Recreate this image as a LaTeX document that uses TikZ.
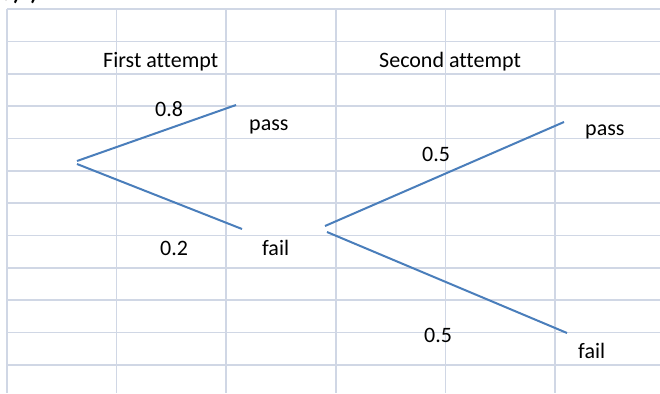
\documentclass[tikz,border=0pt]{standalone}
\usepackage{fontspec}
\setmainfont[Ligatures=NoCommon]{Carlito}
\definecolor{gridc}{HTML}{D0D7E5}
\definecolor{branch}{HTML}{4A7EBB}
\tikzset{
  gridline/.style={draw=gridc, line width=1.7pt},
  branchline/.style={draw=branch, line width=2pt},
  lbl/.style={anchor=base west, inner sep=0pt, font=\fontsize{22}{26}\selectfont}
}
\begin{document}
\begin{tikzpicture}[x=1pt, y=-1pt]
\useasboundingbox (0,0) rectangle (660,393);
\clip (0,0) rectangle (660,393);
\fill[white] (0,0) rectangle (660,393);
% spreadsheet grid
\foreach \k in {0,...,11} {
  \draw[gridline] (7,{9+32.36*\k}) -- (660,{9+32.36*\k});
}
\foreach \k in {0,...,5} {
  \draw[gridline] ({7+109.6*\k},9) -- ({7+109.6*\k},393);
}
% cut-off heading at the top
\node[lbl, font=\fontsize{22}{26}\selectfont\bfseries] (head) at (2,1) {a) i)};
% headings
\node[lbl] (first) at (103,68) {First attempt};
\node[lbl] (second) at (379,68) {Second attempt};
% first tree
\coordinate (r1a) at (77,161);
\coordinate (r1b) at (77,164);
\coordinate (p1) at (236,105);
\coordinate (f1) at (242,229);
\draw[branchline] (r1a) -- (p1);
\draw[branchline] (r1b) -- (f1);
\node[lbl] (pr08) at (155,117) {0.8};
\node[lbl] (pass1) at (249,130) {pass};
\node[lbl] (pr02) at (160,255) {0.2};
\node[lbl] (fail1) at (262,255) {fail};
% second tree
\coordinate (r2a) at (325,226);
\coordinate (r2b) at (327,232);
\coordinate (p2) at (564,122);
\coordinate (f2) at (567,333);
\draw[branchline] (r2a) -- (p2);
\draw[branchline] (r2b) -- (f2);
\node[lbl] (pr05a) at (422,161) {0.5};
\node[lbl] (pass2) at (585,135) {pass};
\node[lbl] (pr05b) at (424,342) {0.5};
\node[lbl] (fail2) at (578,358) {fail};
\end{tikzpicture}
\end{document}
